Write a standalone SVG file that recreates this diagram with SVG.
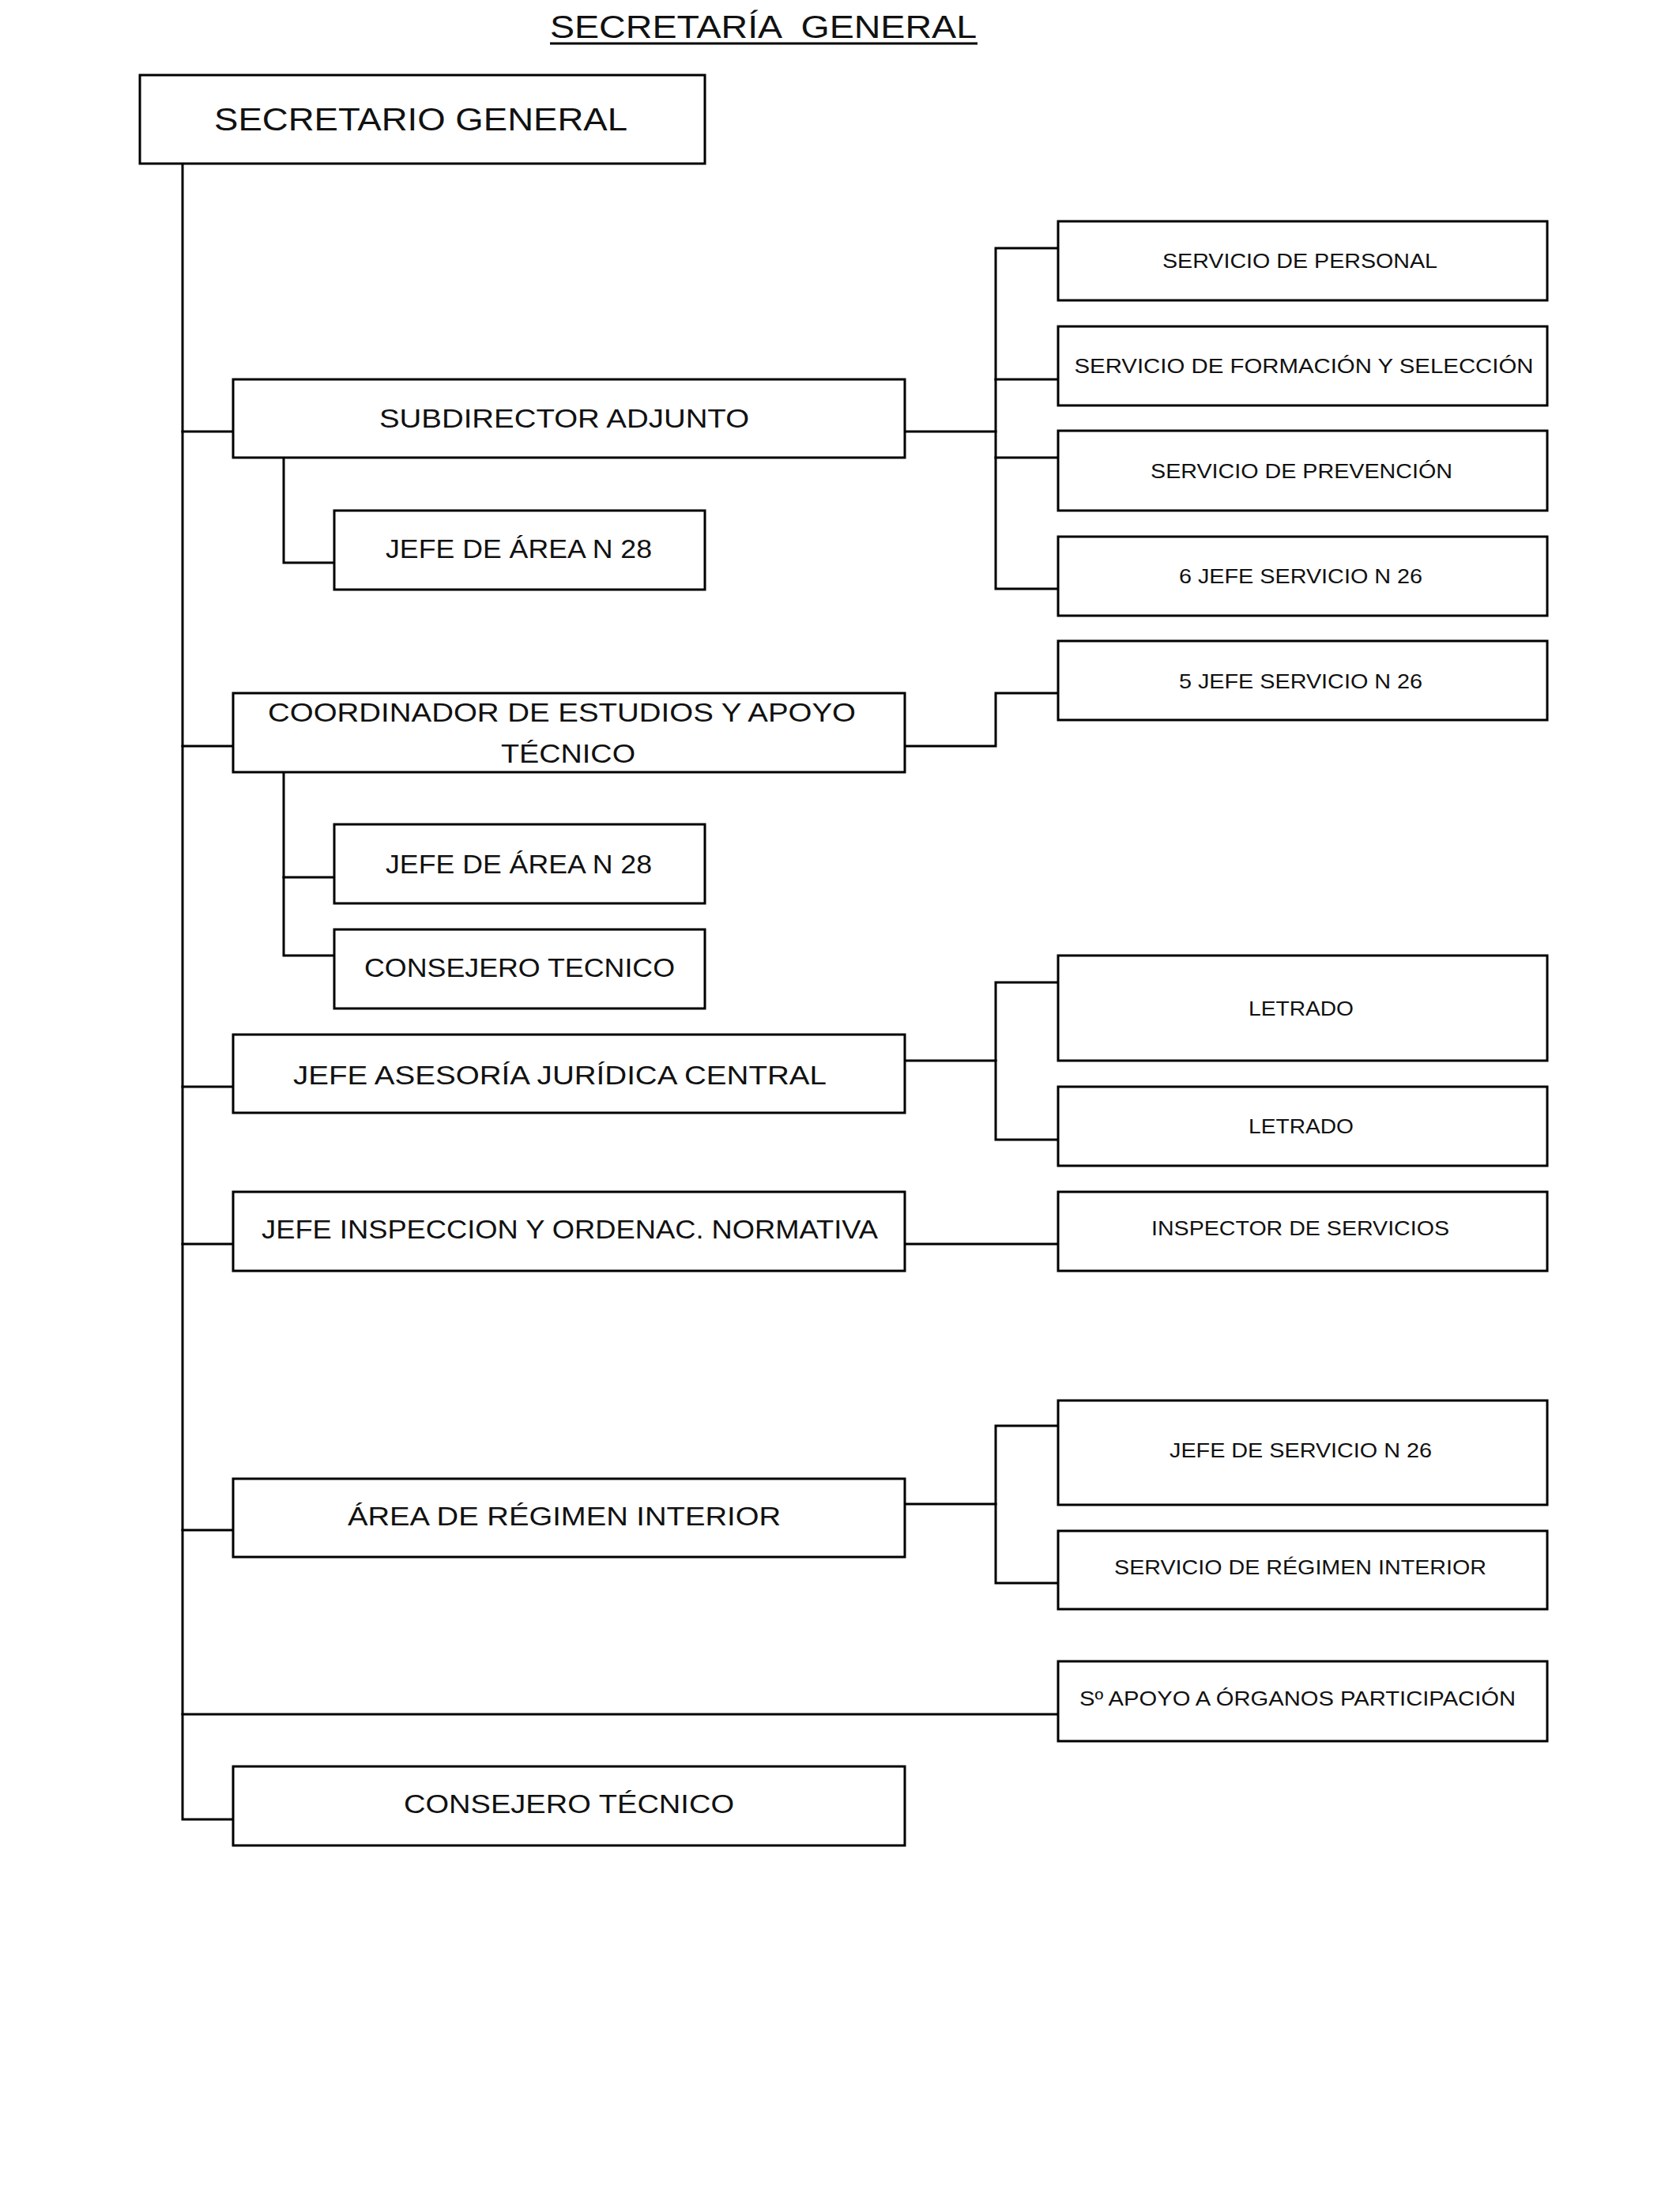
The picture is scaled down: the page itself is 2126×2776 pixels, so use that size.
<svg xmlns="http://www.w3.org/2000/svg" width="2126" height="2776" viewBox="0 0 2126 2776">
<style>
  .box { fill: #ffffff; stroke: #000000; stroke-width: 3; }
  .ln { fill: none; stroke: #000000; stroke-width: 3; stroke-linejoin: miter; stroke-linecap: square; }
  text { font-family: "Liberation Sans", Arial, sans-serif; fill: #111111; text-anchor: middle; }
  .t1 { font-size: 40px; }
  .t2 { font-size: 33px; }
  .t3 { font-size: 25px; }
</style>
<rect width="2126" height="2776" fill="#ffffff"/>

<g id="title">
  <text class="t1" xml:space="preserve" transform="translate(966 48) scale(1.151 1)" x="0" y="0" textLength="469.2" lengthAdjust="spacingAndGlyphs">SECRETARÍA  GENERAL</text>
  <line x1="696" y1="55" x2="1237" y2="55" stroke="#000" stroke-width="3"/>
</g>

<g id="connectors">
  <path class="ln" d="M231 207 V2302 H295"/>
  <path class="ln" d="M231 546 H295"/>
  <path class="ln" d="M231 944 H295"/>
  <path class="ln" d="M231 1375 H295"/>
  <path class="ln" d="M231 1574 H295"/>
  <path class="ln" d="M231 1936 H295"/>
  <path class="ln" d="M231 2169 H1339"/>
  <path class="ln" d="M359 579 V712 H423"/>
  <path class="ln" d="M359 977 V1209 H423"/>
  <path class="ln" d="M359 1110 H423"/>
  <path class="ln" d="M1145 546 H1260"/>
  <path class="ln" d="M1339 314 H1260 V745 H1339"/>
  <path class="ln" d="M1260 480 H1339"/>
  <path class="ln" d="M1260 579 H1339"/>
  <path class="ln" d="M1145 944 H1260 V877 H1339"/>
  <path class="ln" d="M1145 1342 H1260"/>
  <path class="ln" d="M1339 1243 H1260 V1442 H1339"/>
  <path class="ln" d="M1145 1574 H1339"/>
  <path class="ln" d="M1145 1903 H1260"/>
  <path class="ln" d="M1339 1804 H1260 V2003 H1339"/>
</g>

<g id="secretario-general">
  <rect class="box" x="177" y="95" width="715" height="112"/>
  <text class="t1" transform="translate(532.5 165) scale(1.131 1)" x="0" y="0" textLength="462.4" lengthAdjust="spacingAndGlyphs">SECRETARIO GENERAL</text>
</g>

<g id="subdirector-adjunto">
  <rect class="box" x="295" y="480" width="850" height="99"/>
  <text class="t2" transform="translate(714 541) scale(1.155 1)" x="0" y="0" textLength="405.2" lengthAdjust="spacingAndGlyphs">SUBDIRECTOR ADJUNTO</text>
</g>

<g id="jefe-area-1">
  <rect class="box" x="423" y="646" width="469" height="100"/>
  <text class="t2" transform="translate(656.5 706) scale(1.075 1)" x="0" y="0" textLength="313.5" lengthAdjust="spacingAndGlyphs">JEFE DE ÁREA N 28</text>
</g>

<g id="coordinador">
  <rect class="box" x="295" y="877" width="850" height="100"/>
  <text class="t2" transform="translate(711 913) scale(1.159 1)" x="0" y="0" textLength="641.9" lengthAdjust="spacingAndGlyphs">COORDINADOR DE ESTUDIOS Y APOYO</text>
  <text class="t2" transform="translate(719 965) scale(1.145 1)" x="0" y="0" textLength="148.5" lengthAdjust="spacingAndGlyphs">TÉCNICO</text>
</g>

<g id="jefe-area-2">
  <rect class="box" x="423" y="1043" width="469" height="100"/>
  <text class="t2" transform="translate(656.5 1104.5) scale(1.075 1)" x="0" y="0" textLength="313.5" lengthAdjust="spacingAndGlyphs">JEFE DE ÁREA N 28</text>
</g>

<g id="consejero-tecnico-1">
  <rect class="box" x="423" y="1176" width="469" height="100"/>
  <text class="t2" transform="translate(657.5 1236) scale(1.083 1)" x="0" y="0" textLength="362.9" lengthAdjust="spacingAndGlyphs">CONSEJERO TECNICO</text>
</g>

<g id="jefe-asesoria">
  <rect class="box" x="295" y="1309" width="850" height="99"/>
  <text class="t2" transform="translate(708.5 1371.5) scale(1.158 1)" x="0" y="0" textLength="582.9" lengthAdjust="spacingAndGlyphs">JEFE ASESORÍA JURÍDICA CENTRAL</text>
</g>

<g id="jefe-inspeccion">
  <rect class="box" x="295" y="1508" width="850" height="100"/>
  <text class="t2" transform="translate(721 1567) scale(1.091 1)" x="0" y="0" textLength="714.9" lengthAdjust="spacingAndGlyphs">JEFE INSPECCION Y ORDENAC. NORMATIVA</text>
</g>

<g id="area-regimen-interior">
  <rect class="box" x="295" y="1871" width="850" height="99"/>
  <text class="t2" transform="translate(714 1930) scale(1.154 1)" x="0" y="0" textLength="474.9" lengthAdjust="spacingAndGlyphs">ÁREA DE RÉGIMEN INTERIOR</text>
</g>

<g id="consejero-tecnico-2">
  <rect class="box" x="295" y="2235" width="850" height="100"/>
  <text class="t2" transform="translate(720 2294) scale(1.151 1)" x="0" y="0" textLength="363.2" lengthAdjust="spacingAndGlyphs">CONSEJERO TÉCNICO</text>
</g>

<g id="servicio-personal">
  <rect class="box" x="1339" y="280" width="619" height="100"/>
  <text class="t3" transform="translate(1645 339) scale(1.144 1)" x="0" y="0" textLength="304.2" lengthAdjust="spacingAndGlyphs">SERVICIO DE PERSONAL</text>
</g>

<g id="servicio-formacion">
  <rect class="box" x="1339" y="413" width="619" height="100"/>
  <text class="t3" transform="translate(1650 472) scale(1.171 1)" x="0" y="0" textLength="496.2" lengthAdjust="spacingAndGlyphs">SERVICIO DE FORMACIÓN Y SELECCIÓN</text>
</g>

<g id="servicio-prevencion">
  <rect class="box" x="1339" y="545" width="619" height="101"/>
  <text class="t3" transform="translate(1647 605) scale(1.146 1)" x="0" y="0" textLength="333.3" lengthAdjust="spacingAndGlyphs">SERVICIO DE PREVENCIÓN</text>
</g>

<g id="jefe-servicio-6">
  <rect class="box" x="1339" y="679" width="619" height="100"/>
  <text class="t3" transform="translate(1646 737.5) scale(1.149 1)" x="0" y="0" textLength="268.1" lengthAdjust="spacingAndGlyphs">6 JEFE SERVICIO N 26</text>
</g>

<g id="jefe-servicio-5">
  <rect class="box" x="1339" y="811" width="619" height="100"/>
  <text class="t3" transform="translate(1646 870.5) scale(1.149 1)" x="0" y="0" textLength="268.1" lengthAdjust="spacingAndGlyphs">5 JEFE SERVICIO N 26</text>
</g>

<g id="letrado-1">
  <rect class="box" x="1339" y="1209" width="619" height="133"/>
  <text class="t3" transform="translate(1646.5 1285) scale(1.126 1)" x="0" y="0" textLength="118.1" lengthAdjust="spacingAndGlyphs">LETRADO</text>
</g>

<g id="letrado-2">
  <rect class="box" x="1339" y="1375" width="619" height="100"/>
  <text class="t3" transform="translate(1646.5 1434) scale(1.126 1)" x="0" y="0" textLength="118.1" lengthAdjust="spacingAndGlyphs">LETRADO</text>
</g>

<g id="inspector-servicios">
  <rect class="box" x="1339" y="1508" width="619" height="100"/>
  <text class="t3" transform="translate(1645.5 1563) scale(1.14 1)" x="0" y="0" textLength="330.7" lengthAdjust="spacingAndGlyphs">INSPECTOR DE SERVICIOS</text>
</g>

<g id="jefe-de-servicio">
  <rect class="box" x="1339" y="1772" width="619" height="132"/>
  <text class="t3" transform="translate(1646 1844) scale(1.149 1)" x="0" y="0" textLength="288.9" lengthAdjust="spacingAndGlyphs">JEFE DE SERVICIO N 26</text>
</g>

<g id="servicio-regimen-interior">
  <rect class="box" x="1339" y="1937" width="619" height="99"/>
  <text class="t3" transform="translate(1645.5 1992) scale(1.146 1)" x="0" y="0" textLength="411" lengthAdjust="spacingAndGlyphs">SERVICIO DE RÉGIMEN INTERIOR</text>
</g>

<g id="apoyo-organos">
  <rect class="box" x="1339" y="2102" width="619" height="101"/>
  <text class="t3" transform="translate(1642 2158) scale(1.146 1)" x="0" y="0" textLength="481.7" lengthAdjust="spacingAndGlyphs">Sº APOYO A ÓRGANOS PARTICIPACIÓN</text>
</g>
</svg>
